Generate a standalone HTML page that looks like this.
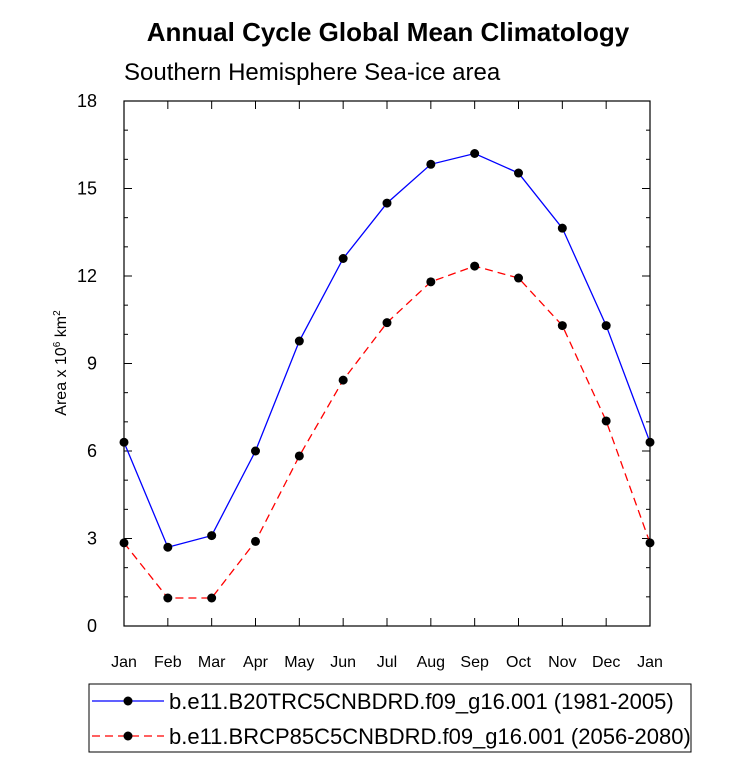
<!DOCTYPE html>
<html><head><meta charset="utf-8"><style>
body{margin:0;background:#fff;font-family:"Liberation Sans",sans-serif;}
svg text{font-family:"Liberation Sans",sans-serif;}
</style></head><body>
<svg id="chart" width="733" height="777" xmlns="http://www.w3.org/2000/svg">
<text x="388" y="41" font-size="26" font-weight="bold" text-anchor="middle">Annual Cycle Global Mean Climatology</text>
<text x="124" y="80" font-size="24">Southern Hemisphere Sea-ice area</text>
<text transform="translate(66,363) rotate(-90)" font-size="16" text-anchor="middle">Area x 10<tspan font-size="10" dy="-6">6</tspan><tspan dy="6"> km</tspan><tspan font-size="10" dy="-6">2</tspan></text>
<g id="axes"></g>
<g id="series"></g>
<rect x="89" y="684" width="602" height="68" fill="none" stroke="#000" stroke-width="1"/>
<g>
<line x1="92" y1="701" x2="164" y2="701" stroke="#0000ff" stroke-width="1.3"/>
<circle cx="128" cy="701" r="4.5" fill="#000"/>
<text x="169" y="709" font-size="22">b.e11.B20TRC5CNBDRD.f09_g16.001 (1981-2005)</text>
</g>
<g>
<line x1="92" y1="736" x2="164" y2="736" stroke="#ff0000" stroke-width="1.3" stroke-dasharray="8,5"/>
<circle cx="128" cy="736" r="4.5" fill="#000"/>
<text x="169" y="744" font-size="22">b.e11.BRCP85C5CNBDRD.f09_g16.001 (2056-2080)</text>
</g>
</svg>
<script>
const months=["Jan","Feb","Mar","Apr","May","Jun","Jul","Aug","Sep","Oct","Nov","Dec","Jan"];
const histValues=[6.3,2.7,3.1,6.0,9.77,12.6,14.5,15.83,16.2,15.53,13.64,10.3,6.3];
const rcpValues=[2.85,0.96,0.96,2.9,5.83,8.43,10.4,11.8,12.34,11.93,10.3,7.03,2.85];
const yTicks=[0,3,6,9,12,15,18];
const L=124,R=650,T=101,B=626,yMax=18;
const xs=i=>L+(R-L)*i/(months.length-1);
const ys=v=>B-(B-T)*v/yMax;
const NS="http://www.w3.org/2000/svg";
function mk(tag,attrs,parent){const e=document.createElementNS(NS,tag);for(const k in attrs)e.setAttribute(k,attrs[k]);parent.appendChild(e);return e;}
const ax=document.getElementById('axes');
const frame=mk('rect',{x:L,y:T,width:R-L,height:B-T,fill:'none',stroke:'#000','stroke-width':1.2},ax);


for(let v=0;v<=yMax;v++){
  const maj=v%3===0,len=maj?8:4,y=ys(v);
  mk('line',{x1:L,y1:y,x2:L+len,y2:y,stroke:'#000'},ax);
  mk('line',{x1:R,y1:y,x2:R-len,y2:y,stroke:'#000'},ax);
}
yTicks.forEach(v=>{
  const t=mk('text',{x:L-27,y:ys(v)+6,'font-size':18,'text-anchor':'end'},ax);
  t.textContent=v;
  
  
});
months.forEach((m,i)=>{
  const x=xs(i);
  mk('line',{x1:x,y1:B,x2:x,y2:B-8,stroke:'#000'},ax);
  mk('line',{x1:x,y1:T,x2:x,y2:T+8,stroke:'#000'},ax);
  const t=mk('text',{x:x,y:B+41,'font-size':16,'text-anchor':'middle'},ax);
  t.textContent=m;
  
  
});
const sg=document.getElementById('series');
function draw(vals,color,dash,name){
  const g=mk('g',{},sg);
  
  
  const p=mk('polyline',{points:vals.map((v,i)=>xs(i)+','+ys(v)).join(' '),fill:'none',stroke:color,'stroke-width':1.3},g);
  if(dash)p.setAttribute('stroke-dasharray',dash);
  
  
  vals.forEach((v,i)=>{
    const c=mk('circle',{cx:xs(i),cy:ys(v),r:4.5,fill:'#000'},g);
    
    
  });
}
draw(histValues,'#0000ff',null,'historical-series');
draw(rcpValues,'#ff0000','8,5','rcp85-series');
</script>
</body></html>
